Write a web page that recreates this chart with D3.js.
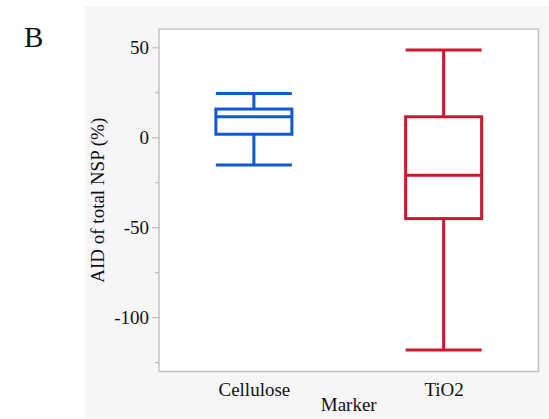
<!DOCTYPE html>
<html>
<head>
<meta charset="utf-8">
<script src="https://cdn.jsdelivr.net/npm/d3@7"></script>
<style>
  html, body { margin: 0; padding: 0; background: #ffffff; }
  svg { display: block; }
  text { font-family: "Liberation Serif", "Times New Roman", serif; fill: #111; }
</style>
</head>
<body>
<svg id="chart" width="549" height="419"></svg>
<script>
// Box summaries per marker: whisker min, Q1, median, Q3, whisker max
const markers = ["Cellulose", "TiO2"];
const whiskerMin = [-15.4, -118.3];
const q1 = [1.7, -45.2];
const median = [11.4, -21.1];
const q3 = [15.7, 11.4];
const whiskerMax = [24.4, 48.5];
const boxColors = ["#1058d4", "#cc1731"];
const majorTicks = [50, 0, -50, -100];
const minorTicks = [25, -25, -75, -125];

const svg = d3.select("#chart");
const W = 549, H = 419;

// figure backdrop
svg.append("rect").attr("x", 0).attr("y", 0).attr("width", W).attr("height", H).attr("fill", "#ffffff");
svg.append("rect").attr("x", 85).attr("y", 6).attr("width", W - 85).attr("height", H - 6).attr("fill", "#f6f6f6");

const plot = { left: 159, right: 538.5, top: 29, bottom: 371.5 };

const y = d3.scaleLinear().domain([-130.2, 60.2]).range([plot.bottom, plot.top]);
const x = d3.scalePoint().domain(markers).range([plot.left, plot.right]).padding(0.5);

// plotting frame
svg.append("rect")
  .attr("x", plot.left).attr("y", plot.top)
  .attr("width", plot.right - plot.left).attr("height", plot.bottom - plot.top)
  .attr("fill", "#ffffff").attr("stroke", "#c3c3c3").attr("stroke-width", 1.5);

// y axis: major ticks with labels (plain hyphen for negatives), minor ticks without
const yAxis = d3.axisLeft(y).tickValues(majorTicks).tickSize(7).tickPadding(3).tickFormat(d => String(d));
const gy = svg.append("g").attr("transform", `translate(${plot.left},0)`).call(yAxis);
gy.select(".domain").remove();
gy.selectAll(".tick line").attr("stroke", "#b0b0b0");
gy.selectAll(".tick text").style("font-size", "19px").attr("fill", "#111")
  .style("font-family", "'Liberation Serif', serif");

const yMinor = d3.axisLeft(y).tickValues(minorTicks).tickSize(4).tickFormat("");
const gyMinor = svg.append("g").attr("transform", `translate(${plot.left},0)`).call(yMinor);
gyMinor.select(".domain").remove();
gyMinor.selectAll(".tick line").attr("stroke", "#b0b0b0");

// x axis category labels
const xAxis = d3.axisBottom(x).tickSize(0).tickPadding(11);
const gx = svg.append("g").attr("transform", `translate(0,${plot.bottom})`).call(xAxis);
gx.select(".domain").remove();
gx.selectAll(".tick text").style("font-size", "19px").attr("fill", "#111")
  .style("font-family", "'Liberation Serif', serif");

// axis titles
svg.append("text")
  .attr("x", (plot.left + plot.right) / 2).attr("y", 411)
  .attr("text-anchor", "middle").style("font-size", "19px").text("Marker");
svg.append("text")
  .attr("transform", `translate(104,${(plot.top + plot.bottom) / 2}) rotate(-90)`)
  .attr("text-anchor", "middle").style("font-size", "19px").text("AID of total NSP (%)");

// panel letter
svg.append("text").attr("x", 24).attr("y", 46.5).style("font-size", "29px").text("B");

// box plots
const boxW = 76;
const sw = 3;
markers.forEach((m, i) => {
  const cx = x(m);
  const g = svg.append("g").attr("stroke", boxColors[i]).attr("stroke-width", sw).attr("fill", "none");
  // whiskers
  g.append("line").attr("x1", cx).attr("x2", cx).attr("y1", y(whiskerMax[i])).attr("y2", y(q3[i]));
  g.append("line").attr("x1", cx).attr("x2", cx).attr("y1", y(q1[i])).attr("y2", y(whiskerMin[i]));
  // caps
  g.append("line").attr("x1", cx - boxW / 2).attr("x2", cx + boxW / 2).attr("y1", y(whiskerMax[i])).attr("y2", y(whiskerMax[i]));
  g.append("line").attr("x1", cx - boxW / 2).attr("x2", cx + boxW / 2).attr("y1", y(whiskerMin[i])).attr("y2", y(whiskerMin[i]));
  // box
  g.append("rect").attr("x", cx - boxW / 2).attr("y", y(q3[i]))
    .attr("width", boxW).attr("height", y(q1[i]) - y(q3[i]));
  // median
  g.append("line").attr("x1", cx - boxW / 2).attr("x2", cx + boxW / 2).attr("y1", y(median[i])).attr("y2", y(median[i]));
});
</script>
</body>
</html>
